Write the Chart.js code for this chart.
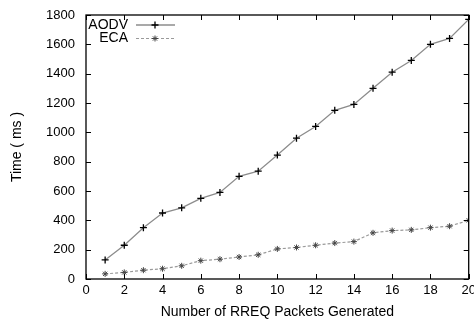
<!DOCTYPE html>
<html>
<head>
<meta charset="utf-8">
<script src="https://cdn.jsdelivr.net/npm/chart.js@4"></script>
<style>
  html, body { margin: 0; padding: 0; background: #fff; }
  #wrap { width: 474px; height: 322px; }
</style>
</head>
<body>
<div id="wrap"><canvas id="rreqChart" width="474" height="322"></canvas></div>
<script>
// data
const rreqPackets = [1, 2, 3, 4, 5, 6, 7, 8, 9, 10, 11, 12, 13, 14, 15, 16, 17, 18, 19, 20];
const aodvTimes = [130, 230, 350, 450, 485, 550, 590, 700, 735, 845, 960, 1040, 1150, 1190, 1300, 1410, 1490, 1600, 1640, 1770];
const ecaTimes = [35, 45, 60, 70, 90, 125, 135, 150, 165, 205, 215, 230, 245, 255, 315, 330, 335, 350, 360, 400];
const xTickValues = [0, 2, 4, 6, 8, 10, 12, 14, 16, 18, 20];
const yTickValues = [0, 200, 400, 600, 800, 1000, 1200, 1400, 1600, 1800];
const seriesNames = ['AODV', 'ECA'];

const FONT = 'Liberation Sans, Arial, sans-serif';

function toPoints(xs, ys) {
    return xs.map((x, i) => ({ x: x, y: ys[i] }));
}

// gnuplot style frame with inward ticks on all sides, plus the key
const framePlugin = {
    id: 'frame',
    afterDraw(chart) {
        const ctx = chart.ctx;
        const a = chart.chartArea;
        const xs = chart.scales.x, ys = chart.scales.y;
        const tl = 5;
        ctx.save();
        ctx.strokeStyle = '#000';
        ctx.lineWidth = 1.3;
        ctx.strokeRect(a.left, a.top, a.right - a.left, a.bottom - a.top);
        ctx.lineWidth = 1;
        ctx.beginPath();
        xs.ticks.forEach(t => {
            const px = Math.round(xs.getPixelForValue(t.value)) + 0.5;
            ctx.moveTo(px, a.bottom); ctx.lineTo(px, a.bottom - tl);
            ctx.moveTo(px, a.top); ctx.lineTo(px, a.top + tl);
        });
        ys.ticks.forEach(t => {
            const py = Math.round(ys.getPixelForValue(t.value)) + 0.5;
            ctx.moveTo(a.left, py); ctx.lineTo(a.left + tl, py);
            ctx.moveTo(a.right, py); ctx.lineTo(a.right - tl, py);
        });
        ctx.stroke();

        ctx.font = '14px ' + FONT;
        ctx.textAlign = 'right';
        ctx.textBaseline = 'middle';
        chart.data.datasets.forEach((ds, i) => {
            const y = 25 + i * 13.5;
            ctx.fillStyle = '#000';
            ctx.fillText(ds.label, 128, y);
            ctx.strokeStyle = ds.borderColor;
            ctx.lineWidth = ds.borderWidth;
            ctx.setLineDash(ds.borderDash || []);
            ctx.beginPath();
            ctx.moveTo(136, y); ctx.lineTo(175, y);
            ctx.stroke();
            ctx.setLineDash([]);
            ctx.strokeStyle = ds.pointBorderColor;
            ctx.lineWidth = ds.pointBorderWidth;
            Chart.helpers.drawPoint(ctx, { pointStyle: ds.pointStyle, radius: ds.pointRadius, borderWidth: ds.pointBorderWidth, rotation: 0 }, 155, y);
        });
        ctx.restore();
    }
};

function drawRreqChart() {
    const canvas = document.getElementById('rreqChart');
    const ctx = canvas.getContext('2d');

    new Chart(ctx, {
        type: 'line',
        data: {
            datasets: [{
                label: seriesNames[0],
                data: toPoints(rreqPackets, aodvTimes),
                borderColor: '#8c8c8c',
                borderWidth: 1.3,
                pointStyle: 'cross',
                pointRadius: 3.5,
                pointBorderColor: '#000',
                pointBorderWidth: 1.3,
                pointBackgroundColor: '#000',
                fill: false,
                tension: 0
            }, {
                label: seriesNames[1],
                data: toPoints(rreqPackets, ecaTimes),
                borderColor: '#9a9a9a',
                borderWidth: 1.2,
                borderDash: [3, 2],
                pointStyle: 'star',
                pointRadius: 3,
                pointBorderColor: '#444',
                pointBorderWidth: 1,
                pointBackgroundColor: '#444',
                fill: false,
                tension: 0
            }]
        },
        options: {
            responsive: false,
            animation: false,
            devicePixelRatio: 1,
            layout: { padding: { left: 0, right: 5, top: 15, bottom: 0 } },
            plugins: {
                legend: { display: false },
                tooltip: { enabled: false }
            },
            scales: {
                x: {
                    type: 'linear',
                    min: 0,
                    max: 20,
                    grid: { display: false, drawTicks: false },
                    border: { display: false },
                    afterBuildTicks: s => { s.ticks = xTickValues.map(v => ({ value: v })); },
                    afterFit: s => { s.height = 43; s.paddingLeft = 0; s.paddingRight = 0; },
                    ticks: {
                        color: '#000',
                        padding: 4,
                        maxRotation: 0,
                        autoSkip: false,
                        callback: v => String(v),
                        font: { family: FONT, size: 13 }
                    },
                    title: {
                        display: true,
                        text: 'Number of RREQ Packets Generated',
                        color: '#000',
                        padding: { top: 0, bottom: 1 },
                        font: { family: FONT, size: 14 }
                    }
                },
                y: {
                    min: 0,
                    max: 1800,
                    grid: { display: false, drawTicks: false },
                    border: { display: false },
                    afterBuildTicks: s => { s.ticks = yTickValues.map(v => ({ value: v })); },
                    afterFit: s => { s.width = 86; s.paddingTop = 0; s.paddingBottom = 0; },
                    ticks: {
                        color: '#000',
                        padding: 11,
                        autoSkip: false,
                        callback: v => String(v),
                        font: { family: FONT, size: 13 }
                    },
                    title: {
                        display: true,
                        text: 'Time ( ms )',
                        color: '#000',
                        padding: { top: 9, bottom: 0 },
                        font: { family: FONT, size: 14 }
                    }
                }
            }
        },
        plugins: [framePlugin]
    });
}

drawRreqChart();
</script>
</body>
</html>
